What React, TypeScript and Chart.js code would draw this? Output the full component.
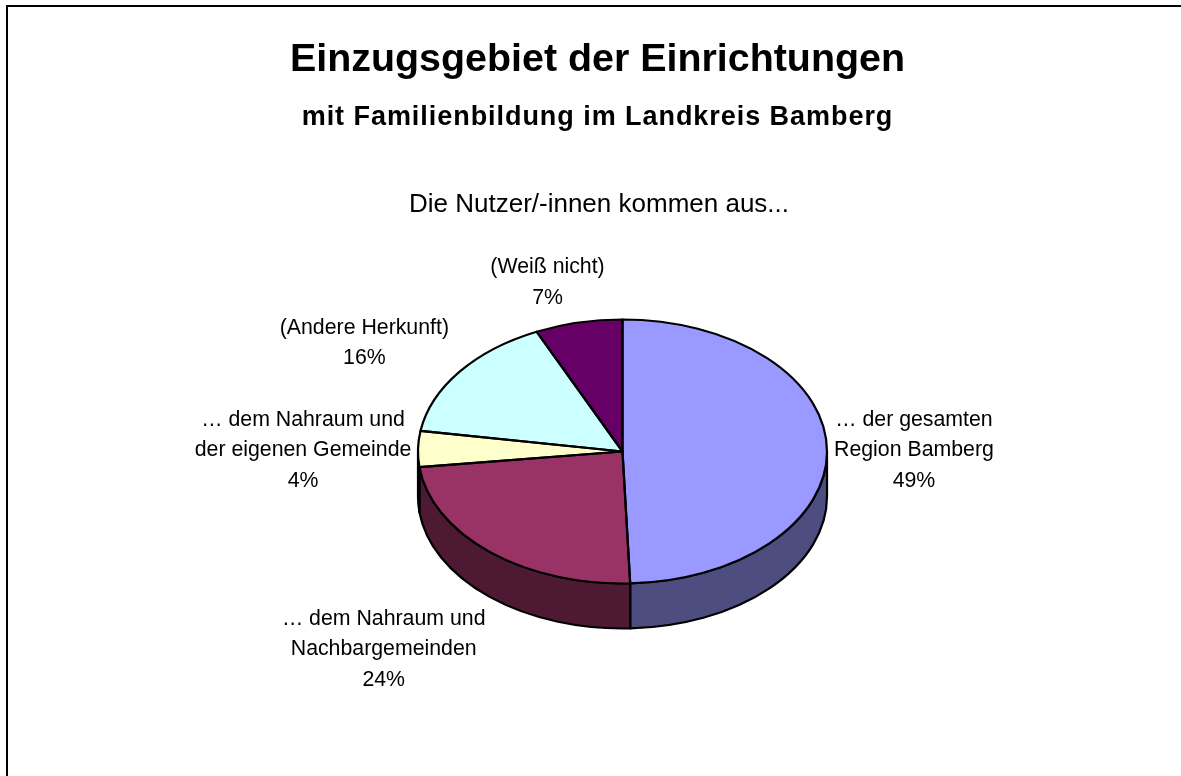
import React, { useEffect, useRef } from "react";
import { Chart, registerables } from "chart.js";

Chart.register(...registerables);

const categories = [
  ["… der gesamten", "Region Bamberg"],
  ["… dem Nahraum und", "Nachbargemeinden"],
  ["… dem Nahraum und", "der eigenen Gemeinde"],
  ["(Andere Herkunft)"],
  ["(Weiß nicht)"],
];
const values = [49.4, 23.7, 4.4, 15.6, 6.9];
const topColors = ["#9999FF", "#993366", "#FFFFCC", "#CCFFFF", "#660066"];
const wallColors = ["#4D4D80", "#4D1933", "#808066", "#668080", "#330033"];
const titleText = "Einzugsgebiet der Einrichtungen";
const subtitleText = "mit Familienbildung im Landkreis Bamberg";
const captionText = "Die Nutzer/-innen kommen aus...";

const labelNudges = [
  [87, 1.5],
  [-106, 97.5],
  [-115, 1.5],
  [-95, -29],
  [-31, -40],
];
const SQUASH = 132 / 204.5;
const DEPTH = 45;
const FONT = '"Liberation Sans", Arial, sans-serif';

function slicePath(ctx: CanvasRenderingContext2D, a: any, ry: number) {
  ctx.beginPath();
  ctx.moveTo(a.x, a.y);
  ctx.ellipse(a.x, a.y, a.outerRadius, ry, 0, a.startAngle, a.endAngle);
  ctx.closePath();
}

const pie3d = {
  id: "pie3d",
  beforeDatasetDraw(chart: any) {
    const ctx = chart.ctx as CanvasRenderingContext2D;
    const arcs = chart.getDatasetMeta(0).data;
    ctx.save();
    ctx.lineWidth = 2.2;
    ctx.strokeStyle = "#000";
    ctx.lineJoin = "round";
    arcs.forEach((a: any, i: number) => {
      const ry = a.outerRadius * SQUASH;
      const s = Math.max(a.startAngle, 0);
      const e = Math.min(a.endAngle, Math.PI);
      if (e <= s) return;
      ctx.beginPath();
      ctx.ellipse(a.x, a.y, a.outerRadius, ry, 0, s, e);
      ctx.ellipse(a.x, a.y + DEPTH, a.outerRadius, ry, 0, e, s, true);
      ctx.closePath();
      ctx.fillStyle = wallColors[i];
      ctx.fill();
      ctx.stroke();
    });
    ctx.restore();
    const c = arcs[0];
    ctx.save();
    ctx.translate(0, c.y);
    ctx.scale(1, SQUASH);
    ctx.translate(0, -c.y);
  },
  afterDatasetDraw(chart: any) {
    const ctx = chart.ctx as CanvasRenderingContext2D;
    ctx.restore();
    const arcs = chart.getDatasetMeta(0).data;
    ctx.save();
    ctx.lineWidth = 2.2;
    ctx.strokeStyle = "#000";
    ctx.lineJoin = "round";
    arcs.forEach((a: any) => {
      slicePath(ctx, a, a.outerRadius * SQUASH);
      ctx.stroke();
    });
    ctx.restore();
  },
};

const texts = {
  id: "texts",
  beforeDraw(chart: any) {
    const ctx = chart.ctx as CanvasRenderingContext2D;
    ctx.save();
    ctx.strokeStyle = "#000";
    ctx.lineWidth = 2;
    ctx.beginPath();
    ctx.moveTo(7, 776);
    ctx.lineTo(7, 6);
    ctx.lineTo(1181, 6);
    ctx.stroke();
    ctx.restore();
  },
  afterDraw(chart: any) {
    const ctx = chart.ctx as CanvasRenderingContext2D;
    const arcs = chart.getDatasetMeta(0).data;
    ctx.save();
    ctx.fillStyle = "#000";
    ctx.textAlign = "center";
    ctx.textBaseline = "alphabetic";
    ctx.font = `bold 39.4px ${FONT}`;
    ctx.fillText(titleText, 597.5, 71);
    ctx.font = `bold 27px ${FONT}`;
    (ctx as any).letterSpacing = "0.95px";
    ctx.fillText(subtitleText, 597.5, 124.5);
    (ctx as any).letterSpacing = "0px";
    ctx.font = `26px ${FONT}`;
    ctx.fillText(captionText, 599, 212);
    ctx.textBaseline = "middle";
    ctx.font = `21.3px ${FONT}`;
    arcs.forEach((a: any, i: number) => {
      const mid = (a.startAngle + a.endAngle) / 2;
      const x = a.x + Math.cos(mid) * a.outerRadius + labelNudges[i][0];
      const y = a.y + Math.sin(mid) * a.outerRadius * SQUASH + labelNudges[i][1];
      const lines = [...categories[i], `${Math.round(values[i])}%`];
      const lh = 30.5;
      lines.forEach((t, k) => {
        ctx.fillText(t, x, y + (k - (lines.length - 1) / 2) * lh);
      });
    });
    ctx.restore();
  },
};

export default function App() {
  const ref = useRef<HTMLCanvasElement>(null);
  useEffect(() => {
    const chart = new Chart(ref.current!, {
      type: "pie",
      data: {
        labels: categories.map((c) => c.join(" ")),
        datasets: [
          {
            data: values,
            backgroundColor: topColors,
            borderWidth: 0,
            clip: false,
          } as any,
        ],
      },
      options: {
        responsive: false,
        animation: false,
        layout: { padding: { left: 418, right: 354, top: 247, bottom: 120 } },
        plugins: {
          legend: { display: false },
          title: { display: false },
          tooltip: { enabled: false },
        },
      },
      plugins: [pie3d, texts],
    });
    return () => chart.destroy();
  }, []);
  return (
    <div style={{ position: "absolute", left: 0, top: 0, width: 1181, height: 776, overflow: "hidden", background: "#fff" }}>
      <canvas ref={ref} width={1181} height={776} style={{ display: "block" }} />
    </div>
  );
}
